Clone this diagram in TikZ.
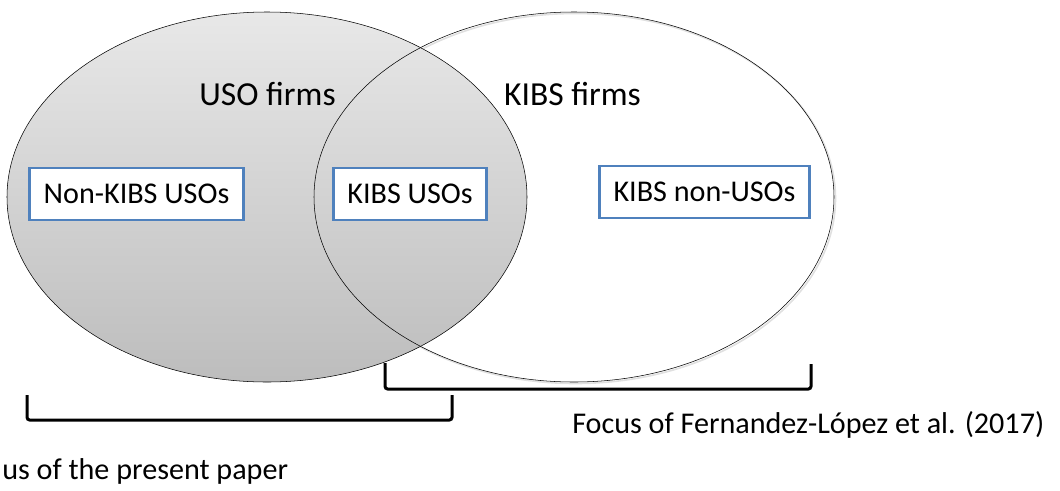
\documentclass[tikz,border=0pt]{standalone}
\usepackage{fontspec}
\setmainfont{Carlito}
\usetikzlibrary{shapes.geometric, positioning}

\definecolor{boxblue}{HTML}{4F81BD}

\tikzset{
    venn/.style={ellipse, draw, thin, minimum width=390pt, minimum height=277.5pt},
    vennshadow/.style={ellipse, draw=black!12, line width=1.2pt, minimum width=390pt, minimum height=277.5pt},
    setname/.style={font=\fontsize{25.2}{30}\selectfont, anchor=base},
    subset/.style={rectangle, draw=boxblue, line width=2.2pt, fill=white,
        inner xsep=10.5pt, minimum height=39pt, font=\fontsize{22.6}{27}\selectfont},
    caption/.style={font=\fontsize{22.6}{27}\selectfont, anchor=base west, inner sep=0pt},
    bracket/.style={line width=2.25pt, rounded corners=2pt}
}

\begin{document}
\begin{tikzpicture}[x=0.75pt, y=-0.75pt]
    \useasboundingbox (0,0) rectangle (1060,490);

    % soft edge under the right set
    \node[vennshadow] (kibsshadow) at (575.5,198.5) {};

    % the two sets
    \node[venn, top color=black!9, bottom color=black!26] (uso) at (267,197) {};
    \node[venn] (kibs) at (574,197) {};

    \node[setname] (usoname) at (267.5,105) {USO firms};
    \node[setname] (kibsname) at (572.5,105) {KIBS firms};

    % subsets
    \node[subset] (nonkibs) at (136.5,194) {Non-KIBS USOs};
    \node[subset] (kibsuso) at (410,194) {KIBS USOs};
    \node[subset] (kibsnonuso) at (704.5,192) {KIBS non-USOs};

    % focus brackets
    \draw[bracket] (27,395) -- (27,420) -- (452,420) -- (452,395);
    \draw[bracket] (385,363) -- (385,389) -- (811,389) -- (811,364);

    \node[caption] (present) at (2,479) {us of the present paper};
    \node[caption] (fernandez) at (572,433) {Focus of Fernandez-López et al. (2017)};
\end{tikzpicture}
\end{document}
